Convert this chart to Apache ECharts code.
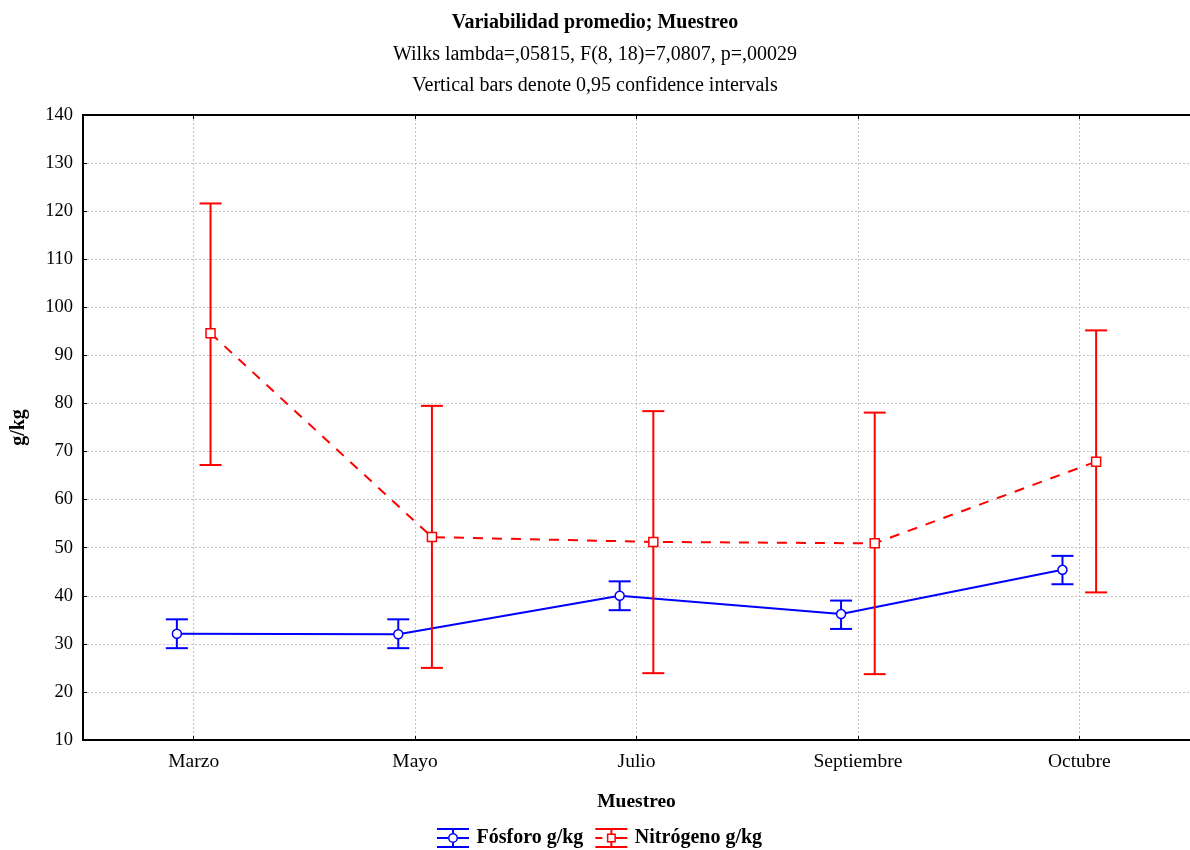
<!DOCTYPE html>
<html>
<head>
<meta charset="utf-8">
<script src="https://cdn.jsdelivr.net/npm/echarts@6/dist/echarts.min.js"></script>
<style>html,body{margin:0;padding:0;background:#fff;}#chart{width:1190px;height:850px;}</style>
</head>
<body>
<div id="chart"></div>
<script>
var categories = ['Marzo', 'Mayo', 'Julio', 'Septiembre', 'Octubre'];
var fosforoMean = [32.1, 32.0, 40.0, 36.2, 45.4];
var fosforoLow = [29.1, 29.1, 37.0, 33.1, 42.4];
var fosforoHigh = [35.1, 35.1, 43.0, 39.0, 48.3];
var nitrogenoMean = [94.6, 52.2, 51.2, 50.9, 67.9];
var nitrogenoLow = [67.2, 25.0, 23.9, 23.7, 40.7];
var nitrogenoHigh = [121.6, 79.5, 78.4, 78.1, 95.2];
var yMin = 10, yMax = 140, yStep = 10;

var BLUE = '#0000ff', RED = '#ff0000';
var OFF = 0.076; // horizontal shift of each group, in category units
var FONT = 'Liberation Serif';

function linePts(vals, shift) {
  return vals.map(function (v, i) { return [i + shift, v]; });
}
function barPts(lo, hi, shift) {
  return lo.map(function (l, i) { return [i + shift, l, hi[i]]; });
}
function errorRenderer(color) {
  return function (params, api) {
    var x = api.value(0);
    var pLo = api.coord([x, api.value(1)]);
    var pHi = api.coord([x, api.value(2)]);
    var hw = 11;
    var st = { stroke: color, lineWidth: 2 };
    return {
      type: 'group',
      children: [
        { type: 'line', shape: { x1: pHi[0], y1: pHi[1], x2: pLo[0], y2: pLo[1] }, style: st },
        { type: 'line', shape: { x1: pHi[0] - hw, y1: pHi[1], x2: pHi[0] + hw, y2: pHi[1] }, style: st },
        { type: 'line', shape: { x1: pLo[0] - hw, y1: pLo[1], x2: pLo[0] + hw, y2: pLo[1] }, style: st }
      ]
    };
  };
}

var iconBlue = 'path://M0 0H32V2H0Z M0 18H32V20H0Z M15 2H17V5.3H15Z M15 14.7H17V18H15Z M0 9H11V11H0Z M21 9H32V11H21Z ' +
  'M11 10A5 5 0 1 0 21 10A5 5 0 1 0 11 10Z M12.5 10A3.5 3.5 0 1 1 19.5 10A3.5 3.5 0 1 1 12.5 10Z';
var iconRed = 'path://M0 0H32V2H0Z M0 18H32V20H0Z M15 2H17V5.5H15Z M15 14.5H17V18H15Z M0 9H7V11H0Z M20.5 9H32V11H20.5Z ' +
  'M11.5 5.5H20.5V14.5H11.5Z M13 7V13H19V7Z';

var grid = { left: 83, top: 115, width: 1112, bottom: 110 };
var gridLine = { show: true, alignWithLabel: true, lineStyle: { color: '#c4c4c4', width: 1, type: [2, 2] } };

var chart = echarts.init(document.getElementById('chart'));
chart.setOption({
  animation: false,
  backgroundColor: '#fff',
  textStyle: { fontFamily: FONT, color: '#000' },
  title: {
    text: 'Variabilidad promedio; Muestreo',
    subtext: 'Wilks lambda=,05815, F(8, 18)=7,0807, p=,00029\nVertical bars denote 0,95 confidence intervals',
    left: 'center',
    top: 7,
    itemGap: 5,
    textStyle: { fontFamily: FONT, fontWeight: 'bold', fontSize: 20, color: '#000', lineHeight: 22 },
    subtextStyle: { fontFamily: FONT, fontSize: 20, color: '#000', lineHeight: 31 }
  },
  legend: {
    left: 437,
    top: 828,
    padding: 0,
    itemWidth: 37,
    itemHeight: 20,
    itemGap: 12,
    itemStyle: { borderWidth: 0 },
    textStyle: { fontFamily: FONT, fontWeight: 'bold', fontSize: 20, color: '#000', lineHeight: 20 },
    data: [
      { name: 'Fósforo g/kg', icon: iconBlue, itemStyle: { color: BLUE, borderWidth: 0 } },
      { name: 'Nitrógeno g/kg', icon: iconRed, itemStyle: { color: RED, borderWidth: 0 } }
    ]
  },
  grid: grid,
  xAxis: [
    {
      type: 'category',
      data: categories,
      position: 'bottom',
      boundaryGap: true,
      name: 'Muestreo',
      nameLocation: 'middle',
      nameGap: 52,
      nameTextStyle: { fontFamily: FONT, fontWeight: 'bold', fontSize: 19.5, color: '#000' },
      axisLine: { show: true, onZero: false, lineStyle: { color: '#000', width: 2 } },
      axisTick: { show: true, inside: true, length: 4, alignWithLabel: true, lineStyle: { color: '#000' } },
      axisLabel: { fontFamily: FONT, fontSize: 19.5, color: '#000', margin: 12 },
      splitLine: gridLine
    },
    {
      type: 'value',
      min: -0.5,
      max: 4.5,
      show: false
    },
    {
      type: 'category',
      data: categories,
      position: 'top',
      boundaryGap: true,
      axisLine: { show: true, onZero: false, lineStyle: { color: '#000', width: 2 } },
      axisTick: { show: true, inside: true, length: 4, alignWithLabel: true, lineStyle: { color: '#000' } },
      axisLabel: { show: false },
      splitLine: { show: false }
    }
  ],
  yAxis: {
    type: 'value',
    min: yMin,
    max: yMax,
    interval: yStep,
    name: 'g/kg',
    nameLocation: 'middle',
    nameGap: 54,
    nameRotate: 90,
    nameTextStyle: { fontFamily: FONT, fontWeight: 'bold', fontSize: 20, color: '#000' },
    axisLine: { show: true, onZero: false, lineStyle: { color: '#000', width: 2 } },
    axisTick: { show: true, inside: true, length: 4, lineStyle: { color: '#000' } },
    axisLabel: { fontFamily: FONT, fontSize: 18.5, color: '#000', margin: 10 },
    splitLine: gridLine
  },
  series: [
    {
      name: 'Fósforo g/kg',
      type: 'custom',
      xAxisIndex: 1,
      data: barPts(fosforoLow, fosforoHigh, -OFF),
      encode: { x: 0, y: [1, 2] },
      renderItem: errorRenderer(BLUE),
      z: 2
    },
    {
      name: 'Fósforo g/kg',
      type: 'line',
      xAxisIndex: 1,
      data: linePts(fosforoMean, -OFF),
      symbol: 'circle',
      symbolSize: 9,
      lineStyle: { color: BLUE, width: 2 },
      itemStyle: { color: '#fff', borderColor: BLUE, borderWidth: 1.5 },
      z: 3
    },
    {
      name: 'Nitrógeno g/kg',
      type: 'custom',
      xAxisIndex: 1,
      data: barPts(nitrogenoLow, nitrogenoHigh, OFF),
      encode: { x: 0, y: [1, 2] },
      renderItem: errorRenderer(RED),
      z: 4
    },
    {
      name: 'Nitrógeno g/kg',
      type: 'line',
      xAxisIndex: 1,
      data: linePts(nitrogenoMean, OFF),
      symbol: 'rect',
      symbolSize: 9,
      lineStyle: { color: RED, width: 2, type: [10, 9] },
      itemStyle: { color: '#fff', borderColor: RED, borderWidth: 1.5 },
      z: 5
    }
  ]
});
</script>
</body>
</html>
